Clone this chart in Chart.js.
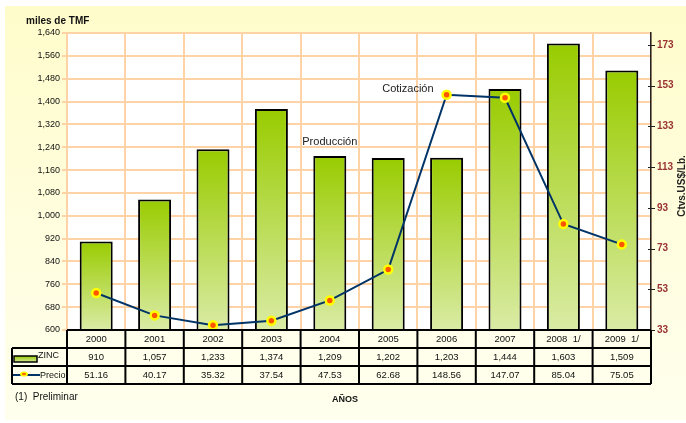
<!DOCTYPE html>
<html>
<head>
<meta charset="utf-8">
<script src="https://cdn.jsdelivr.net/npm/chart.js@4"></script>
<style>
  body{margin:0;background:#fff;}
  #grafico{display:block;}
</style>
</head>
<body>
<canvas id="grafico" width="686" height="423"></canvas>
<script>
// datos del grafico
const anos = ['2000','2001','2002','2003','2004','2005','2006','2007','2008  1/','2009  1/']
const zinc = [910, 1057, 1233, 1374, 1209, 1202, 1203, 1444, 1603, 1509]
const precio = [51.16, 40.17, 35.32, 37.54, 47.53, 62.68, 148.56, 147.07, 85.04, 75.05]
const ticksIzq = [600, 680, 760, 840, 920, 1000, 1080, 1160, 1240, 1320, 1400, 1480, 1560, 1640]
const ticksDer = [33, 53, 73, 93, 113, 133, 153, 173]

const fuente = '"Liberation Sans", Arial, sans-serif'
Chart.defaults.font.family = fuente

const miles = v => Number(v).toLocaleString('en-US')

// fondo, tabla de datos y textos sueltos
const extras = {
    id: 'extras',
    beforeDraw(chart){
        const c = chart.ctx
        const a = chart.chartArea
        c.save()
        c.fillStyle = '#fff'
        c.fillRect(0, 0, chart.width, chart.height)
        const g = c.createLinearGradient(0, 6, 0, 420)
        g.addColorStop(0, '#FFFCCB')
        g.addColorStop(1, '#FFFFEE')
        c.fillStyle = g
        c.fillRect(5, 6, chart.width - 5, 414)
        c.fillStyle = '#fff'
        c.fillRect(a.left, a.top, a.right - a.left, a.bottom - a.top)
        c.restore()
    },
    afterDraw(chart){
        const c = chart.ctx
        const x = chart.scales.x
        const y = chart.scales.y
        const y1 = chart.scales.y1
        const a = chart.chartArea
        const ancho = (a.right - a.left) / anos.length
        c.save()

        // marcas del eje derecho
        c.strokeStyle = '#222'
        c.lineWidth = 1
        ticksDer.forEach(v => {
            const py = Math.round(y1.getPixelForValue(v)) + 0.5
            c.beginPath()
            c.moveTo(a.right - 3, py)
            c.lineTo(a.right + 4, py)
            c.stroke()
        })

        // tabla
        const filas = [a.bottom, a.bottom + 18, a.bottom + 36, a.bottom + 54]
        const izq = 12
        c.fillStyle = '#FFFFEC'
        c.fillRect(a.left, filas[0], a.right - a.left, 18)
        c.fillRect(izq, filas[1], a.right - izq, 36)
        c.strokeStyle = '#000'
        c.lineWidth = 2
        c.beginPath()
        c.moveTo(a.left, filas[0]); c.lineTo(a.right, filas[0])
        c.moveTo(izq, filas[1]); c.lineTo(a.right, filas[1])
        c.moveTo(izq, filas[2]); c.lineTo(a.right, filas[2])
        c.moveTo(izq, filas[3]); c.lineTo(a.right, filas[3])
        c.moveTo(izq, filas[1]); c.lineTo(izq, filas[3])
        for (let i = 0; i <= anos.length; i++) {
            const px = a.left + i * ancho
            c.moveTo(px, filas[0]); c.lineTo(px, filas[3])
        }
        c.stroke()

        c.fillStyle = '#111'
        c.font = '9.5px ' + fuente
        c.textAlign = 'center'
        c.textBaseline = 'middle'
        anos.forEach((t, i) => {
            const px = x.getPixelForValue(i)
            c.fillText(t, px, filas[0] + 9.5)
            c.fillText(miles(zinc[i]), px, filas[1] + 9.5)
            c.fillText(precio[i].toFixed(2), px, filas[2] + 9.5)
        })

        // leyenda dentro de la tabla
        const gz = c.createLinearGradient(0, filas[1] + 8, 0, filas[1] + 14)
        gz.addColorStop(0, '#99CC00')
        gz.addColorStop(1, '#D6E89A')
        c.fillStyle = gz
        c.fillRect(14, filas[1] + 8, 23, 6)
        c.lineWidth = 1.5
        c.strokeStyle = '#000'
        c.strokeRect(14, filas[1] + 8, 23, 6)
        c.fillStyle = '#111'
        c.textAlign = 'left'
        c.font = '9px ' + fuente
        c.fillText('ZINC', 38, filas[1] + 8)
        c.strokeStyle = '#003366'
        c.lineWidth = 2
        c.beginPath()
        c.moveTo(13, filas[2] + 9); c.lineTo(40, filas[2] + 9)
        c.stroke()
        c.fillStyle = '#FFFF00'
        c.beginPath(); c.ellipse(24, filas[2] + 8, 4, 2.6, 0, 0, Math.PI * 2); c.fill()
        c.fillStyle = '#FF6600'
        c.beginPath(); c.ellipse(24, filas[2] + 8, 2, 1.3, 0, 0, Math.PI * 2); c.fill()
        c.fillStyle = '#111'
        c.fillText('Precio', 40, filas[2] + 9.5)

        // textos
        c.font = '10px ' + fuente
        c.fillText('(1)  Preliminar', 15, 397)
        c.font = 'bold 9px ' + fuente
        c.textAlign = 'center'
        c.fillText('AÑOS', 345, 400)
        c.font = 'bold 10px ' + fuente
        c.textAlign = 'left'
        c.fillText('miles de TMF', 26, 21)

        c.font = '11px ' + fuente
        c.fillStyle = '#222'
        c.textAlign = 'center'
        c.fillText('Producción', x.getPixelForValue(4), y.getPixelForValue(zinc[4]) - 14)
        c.textAlign = 'right'
        c.fillText('Cotización', x.getPixelForValue(6) - 13, y1.getPixelForValue(precio[6]) - 6)

        // titulo eje derecho
        c.translate(685, 186)
        c.rotate(-Math.PI / 2)
        c.font = 'bold 10px ' + fuente
        c.textAlign = 'center'
        c.textBaseline = 'alphabetic'
        c.fillStyle = '#222'
        c.fillText('Ctvs.US$/Lb.', 0, 0)
        c.restore()
    }
}

const degradado = (ctx) => {
    const chart = ctx.chart
    if (!chart.chartArea || ctx.raw === undefined) return '#B5D94A'
    const y = chart.scales.y
    const tope = y.getPixelForValue(ctx.raw)
    const g = chart.ctx.createLinearGradient(0, tope, 0, y.bottom)
    g.addColorStop(0, '#99CC00')
    g.addColorStop(1, '#DAEBA5')
    return g
}

new Chart(document.getElementById('grafico'), {
    data: {
        labels: anos,
        datasets: [{
            type: 'line',
            label: 'Precio',
            data: precio,
            yAxisID: 'y1',
            order: 0,
            borderColor: '#003366',
            borderWidth: 2,
            tension: 0,
            pointRadius: 4,
            pointBorderWidth: 2.5,
            pointBackgroundColor: '#FF5500',
            pointBorderColor: '#FFFF00',
            clip: false
        }, {
            type: 'bar',
            label: 'ZINC',
            data: zinc,
            yAxisID: 'y',
            order: 1,
            backgroundColor: degradado,
            borderColor: '#000',
            borderWidth: 2,
            borderSkipped: false,
            barPercentage: 0.565,
            categoryPercentage: 1
        }]
    },
    options: {
        responsive: false,
        animation: false,
        layout: { padding: { top: 33, bottom: 93, left: 0, right: 0 } },
        plugins: { legend: { display: false }, tooltip: { enabled: false } },
        scales: {
            x: {
                offset: true,
                grid: { offset: true, color: '#FFD3A6', lineWidth: 2, drawTicks: false },
                border: { display: false },
                ticks: { display: false },
                afterFit(s){ s.height = 0 }
            },
            y: {
                position: 'left',
                min: 600,
                max: 1640,
                afterBuildTicks(s){ s.ticks = ticksIzq.map(v => ({ value: v })) },
                afterFit(s){ s.width = 67 },
                grid: { color: '#FFD3A6', lineWidth: 2, tickLength: 5 },
                border: { color: '#FFD3A6', width: 2 },
                ticks: { color: '#111', font: { size: 9 }, padding: 2, callback: v => miles(v) }
            },
            y1: {
                position: 'right',
                min: 33,
                max: 178.9,
                afterBuildTicks(s){ s.ticks = ticksDer.map(v => ({ value: v })) },
                afterFit(s){ s.width = 35 },
                grid: { display: false, drawTicks: false },
                border: { color: '#222', width: 1.5 },
                ticks: { color: '#993333', font: { size: 10, weight: 'bold' }, padding: 6 }
            }
        }
    },
    plugins: [extras]
})
</script>
</body>
</html>
